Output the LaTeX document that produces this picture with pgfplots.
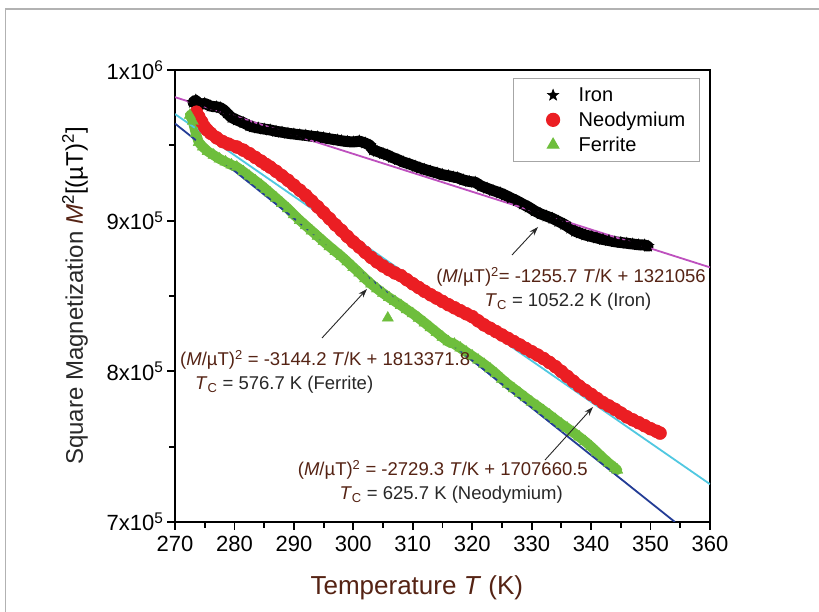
\documentclass[border=0pt]{standalone}
\usepackage{fontspec}
\setmainfont{Liberation Sans}
\usepackage{pgfplots}
\usepackage{pgfplotstable}
\pgfplotsset{compat=1.18}
\usetikzlibrary{arrows.meta}
\definecolor{brn}{RGB}{85,35,20}
\definecolor{txt}{RGB}{40,40,40}
\definecolor{fitmag}{RGB}{190,80,190}
\definecolor{fitcyan}{RGB}{80,200,225}
\definecolor{fitblue}{RGB}{35,60,150}
\definecolor{ndred}{RGB}{235,30,35}
\definecolor{fegreen}{RGB}{110,190,60}

\pgfdeclareplotmark{fstar}{%
  \pgfpathmoveto{\pgfpointpolar{90}{\pgfplotmarksize}}%
  \pgfpathlineto{\pgfpointpolar{126}{0.42\pgfplotmarksize}}%
  \pgfpathlineto{\pgfpointpolar{162}{\pgfplotmarksize}}%
  \pgfpathlineto{\pgfpointpolar{198}{0.42\pgfplotmarksize}}%
  \pgfpathlineto{\pgfpointpolar{234}{\pgfplotmarksize}}%
  \pgfpathlineto{\pgfpointpolar{270}{0.42\pgfplotmarksize}}%
  \pgfpathlineto{\pgfpointpolar{306}{\pgfplotmarksize}}%
  \pgfpathlineto{\pgfpointpolar{342}{0.42\pgfplotmarksize}}%
  \pgfpathlineto{\pgfpointpolar{18}{\pgfplotmarksize}}%
  \pgfpathlineto{\pgfpointpolar{54}{0.42\pgfplotmarksize}}%
  \pgfpathclose
  \pgfusepathqfillstroke}

\pgfplotstableread{
T v
273.0 978500
273.5 980000
274.0 977000
275.0 977800
276.0 976000
277.0 975500
277.6 975000
278.2 973500
278.7 971500
279.5 968500
280.4 966800
281.5 965000
282.5 963000
283.1 962200
284.0 961500
285.0 960800
286.0 960200
287.0 959300
288.0 958700
289.0 958000
290.0 957500
291.0 957000
292.0 956600
293.0 956000
294.0 955600
295.0 955000
296.0 954300
297.3 953500
298.0 953000
299.0 952500
300.0 952200
301.0 952800
302.0 951500
302.8 950000
303.3 946900
304.0 946000
305.0 944500
305.7 943600
306.5 942000
307.5 940500
308.4 938900
309.5 937500
310.5 936000
311.2 935000
312.0 934000
313.0 932800
314.1 931600
315.0 930500
316.0 929800
316.8 929000
317.5 928500
318.5 927000
319.5 926000
320.5 925500
321.5 923000
322.5 921500
323.5 920000
324.7 918400
325.5 917000
326.5 915000
327.5 913200
328.5 911000
329.5 909000
330.5 906500
331.5 904500
332.5 903000
333.5 901500
334.5 899500
335.5 897500
336.5 895000
337.3 893000
338.1 891800
339.0 890500
340.0 889500
341.0 888500
342.0 887500
343.0 886800
344.0 886000
345.0 885500
346.0 885000
347.0 884500
348.0 884000
349.0 883800
349.6 883000
}\iron

\pgfplotstableread{
T v
273.6 972000
274.0 969000
274.5 965500
275.0 962000
275.4 960200
276.0 958000
277.0 955000
278.0 952500
279.0 950800
280.4 948900
281.5 946800
282.5 944500
283.5 942000
284.5 939500
285.3 937300
286.0 935600
287.0 932800
288.0 929800
289.0 926800
290.0 923500
291.0 920200
292.0 916800
293.0 913000
294.0 909200
295.0 905300
296.0 901300
297.0 897200
298.0 893500
299.0 889500
300.0 885800
301.0 882500
302.0 879000
303.0 875600
304.0 872600
305.0 869900
306.0 867500
307.0 865300
308.0 863500
309.0 860800
310.0 858100
311.0 855600
312.0 853100
313.0 850800
314.0 848600
315.0 846400
316.0 844200
317.0 842200
318.0 840200
319.0 838200
320.0 836300
321.0 833500
322.0 830800
323.0 828600
324.0 826400
325.0 824100
326.0 821900
327.0 819700
328.0 817500
329.0 815200
330.0 813000
331.0 810800
332.0 808500
333.0 805900
334.0 803100
335.0 799900
336.0 796600
337.0 793400
338.0 790200
339.0 787400
340.0 784700
341.0 781900
342.0 779200
343.0 777000
344.0 774800
345.0 772300
346.0 769800
347.0 767800
348.0 765900
349.0 763900
350.0 761900
351.0 760200
351.6 759000
}\neo

\pgfplotstableread{
T v
272.5 970000
273.0 966000
273.5 958000
274.0 952000
274.7 948900
275.5 946000
276.5 943500
277.5 941000
278.5 939000
279.5 937000
280.4 935600
281.5 932500
282.5 929500
283.5 926500
284.5 923500
285.3 920800
286.0 918400
287.0 915000
288.0 911500
289.0 908000
290.0 904000
291.0 900200
292.0 896700
293.0 893200
294.0 889700
295.0 886200
296.0 882800
297.0 879500
298.0 876300
299.0 872700
300.0 869000
301.0 865300
302.0 861500
303.0 858000
304.0 854800
305.0 851800
306.0 849000
307.0 846400
308.0 843800
309.0 841000
310.0 838300
311.0 835300
312.0 832200
313.0 829000
314.0 825800
315.0 822600
316.0 819600
317.0 818100
318.0 815500
319.0 812800
320.0 810200
321.0 807500
322.0 804700
323.0 801700
324.0 798400
325.0 794800
326.0 791500
327.0 788500
328.0 785500
329.0 782500
330.0 779500
331.0 776800
332.0 773900
333.0 771000
334.0 768000
335.0 765000
336.0 762300
337.0 759400
338.0 756500
339.0 753400
340.0 750000
341.0 746300
342.0 742500
343.0 739000
344.0 735800
344.4 734500
}\ferrite

\begin{document}
\begin{tikzpicture}[x=1pt,y=1pt]
\useasboundingbox (0,0) rectangle (819,612);
\fill[white] (0,0) rectangle (819,612);
\draw[gray!60, line width=1.5pt] (5.5,0) -- (5.5,603) -- (819,603);
\begin{axis}[
  at={(175pt,90pt)}, anchor=south west,
  scale only axis, width=535pt, height=452pt,
  xmin=270, xmax=360, ymin=700000, ymax=1000000,
  axis line style={line width=2.2pt},
  xtick={270,280,...,360},
  xticklabels={270,280,290,300,310,320,330,340,350,360},
  ytick={700000,800000,900000,1000000},
  yticklabels={7x10\textsuperscript{5},8x10\textsuperscript{5},9x10\textsuperscript{5},1x10\textsuperscript{6}},
  scaled y ticks=false,
  minor x tick num=1, minor y tick num=1,
  tick align=outside, tick pos=left,
  major tick length=8pt, minor tick length=6pt,
  every tick/.style={black, line width=1.8pt},
  ticklabel style={font=\fontsize{22}{22}\selectfont, text=black},
  xticklabel style={yshift=-3pt},
  xlabel={\textcolor{brn}{Temperature \textit{T} (K)}},
  ylabel={\textcolor{txt}{Square Magnetization }\textcolor{brn}{\textit{M}}\textsuperscript{2}[(µT)\textsuperscript{2}]},
  label style={font=\fontsize{24}{24}\selectfont},
  xlabel style={at={(axis description cs:0.452,0)}, anchor=center, yshift=-66pt, font=\fontsize{26}{26}\selectfont},
  ylabel style={at={(axis description cs:-0.187,0.5)}, anchor=center},
  legend style={at={(axis description cs:1,1)}, anchor=north east,
    xshift=-10pt, yshift=-8pt, draw=gray!70, line width=1.2pt,
    font=\fontsize{20}{20}\selectfont, inner xsep=12pt, inner ysep=7pt,
    row sep=5pt, cells={anchor=west}},
  legend image code/.code={\path (0pt,0pt) (50pt,0pt); \draw[#1] plot coordinates {(27pt,0pt)};},
]
% bands
\addplot[black, line width=11pt, line join=round, line cap=round, forget plot] table[x=T,y=v]{\iron};
\addplot[only marks, mark=fstar, mark size=6pt, black, line width=0.5pt] table[x=T,y=v]{\iron};
\addlegendentry{Iron}
\addplot[ndred, line width=12pt, line join=round, line cap=round, forget plot] table[x=T,y=v]{\neo};
\addplot[only marks, mark=*, mark size=6.5pt, ndred, draw=ndred, fill=ndred] table[x=T,y=v]{\neo};
\addlegendentry{Neodymium}
\addplot[fegreen, line width=10pt, line join=round, line cap=round, forget plot] table[x=T,y=v]{\ferrite};
\addplot[only marks, mark=triangle*, mark size=6.5pt, fegreen, draw=fegreen, fill=fegreen] table[x=T,y=v]{\ferrite};
\addlegendentry{Ferrite}
\addplot[only marks, mark=triangle*, mark size=6.5pt, fegreen, draw=fegreen, fill=fegreen, forget plot] coordinates {(305.8,835400)};
% fits
\addplot[fitmag, line width=1.8pt, forget plot] coordinates {(270,981967) (360,869004)};
\addplot[fitcyan, line width=1.8pt, forget plot] coordinates {(270,970749.5) (360,725112.5)};
\addplot[fitblue, line width=1.8pt, forget plot] coordinates {(270,964437.8) (354.1,700010.6)};
\end{axis}
% annotations
\begin{scope}[font=\fontsize{18.5}{18.5}\selectfont]
\node[inner sep=0, text=brn] at (571,335) {(\textit{M}/µT)\textsuperscript{2}= -1255.7 \textit{T}/K + 1321056};
\node[inner sep=0, text=txt] at (568,310) {\textcolor{brn}{\textit{T}\textsubscript{C}} = 1052.2 K (Iron)};
\node[inner sep=0, anchor=west, text=brn] at (180,252) {(\textit{M}/µT)\textsuperscript{2} = -3144.2 \textit{T}/K + 1813371.8};
\node[inner sep=0, anchor=west, text=txt] at (195,227) {\textcolor{brn}{\textit{T}\textsubscript{C}} = 576.7 K (Ferrite)};
\node[inner sep=0, anchor=east, text=brn] at (588,142) {(\textit{M}/µT)\textsuperscript{2} = -2729.3 \textit{T}/K + 1707660.5};
\node[inner sep=0, anchor=east, text=txt] at (563,117) {\textcolor{brn}{\textit{T}\textsubscript{C}} = 625.7 K (Neodymium)};
\end{scope}
\draw[txt, line width=0.9pt, -{Stealth[length=9pt,width=6pt]}] (512,357) -- (538,385);
\draw[txt, line width=0.9pt, -{Stealth[length=9pt,width=6pt]}] (322,274) -- (367,323);
\draw[txt, line width=0.9pt, -{Stealth[length=9pt,width=6pt]}] (545,152) -- (593,205);
\end{tikzpicture}
\end{document}
